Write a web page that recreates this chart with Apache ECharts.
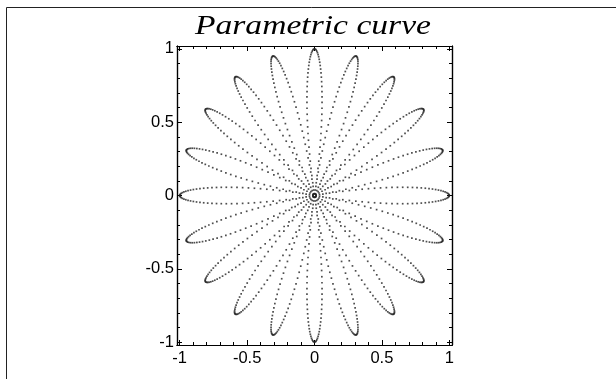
<!DOCTYPE html>
<html>
<head>
<meta charset="utf-8">
<script src="https://cdn.jsdelivr.net/npm/echarts@6/dist/echarts.min.js"></script>
<style>
  html, body { margin: 0; padding: 0; background: #fff; }
  #chart { width: 616px; height: 379px; }
</style>
</head>
<body>
<div id="chart"></div>
<script>
// Rose curve r = cos(k t), traced as x = r cos t, y = r sin t for t in [0, 2π)
const petalFrequency = 10;          // k: 2k = 20 petals
const sampleCount = 1250;           // dots along the curve
const majorTicks = [-1, -0.5, 0, 0.5, 1];
const minorTicks = [-0.9, -0.8, -0.7, -0.6, -0.4, -0.3, -0.2, -0.1,
                    0.1, 0.2, 0.3, 0.4, 0.6, 0.7, 0.8, 0.9];
const tickLabels = ['-1', '-0.5', '0', '0.5', '1'];
const axisRange = [-1.02, 1.02];
const chartTitle = 'Parametric curve';

const curvePoints = [];
for (let i = 0; i < sampleCount; i++) {
  const t = 2 * Math.PI * i / sampleCount;
  const r = Math.cos(petalFrequency * t);
  curvePoints.push([r * Math.cos(t), r * Math.sin(t)]);
}

const labelFont = { fontFamily: '"Liberation Sans", Arial, sans-serif', fontSize: 16.5, color: '#000' };

function fmt(v) {
  const i = majorTicks.findIndex(m => Math.abs(m - v) < 1e-9);
  return i >= 0 ? tickLabels[i] : '';
}

function axis(kind, position, withLabels, ticks, tickLen) {
  return {
    type: 'value',
    position: position,
    min: axisRange[0],
    max: axisRange[1],
    splitLine: { show: false },
    axisLine: { show: true, onZero: false, lineStyle: { color: '#000', width: 1.2 } },
    axisTick: { show: true, inside: true, length: tickLen, customValues: ticks, lineStyle: { color: '#000', width: 1 } },
    axisLabel: withLabels
      ? Object.assign({ show: true, customValues: majorTicks, formatter: fmt, margin: kind === 'x' ? 5 : 3 }, labelFont)
      : { show: false }
  };
}

const chart = echarts.init(document.getElementById('chart'), null, { renderer: 'canvas' });
chart.setOption({
  animation: false,
  backgroundColor: '#fff',
  graphic: [{
    type: 'rect',
    shape: { x: 6.5, y: 7.5, width: 700, height: 500 },
    style: { fill: 'none', stroke: '#222', lineWidth: 1 },
    silent: true
  }, {
    // wide italic serif heading above the plot
    type: 'text',
    x: 313,
    y: 27,
    scaleX: 1.2,
    style: {
      text: chartTitle,
      align: 'center',
      verticalAlign: 'middle',
      font: 'italic 28px "Liberation Serif", "Times New Roman", serif',
      fill: '#000'
    },
    silent: true
  }],
  grid: { left: 177, top: 46, width: 275, height: 299, containLabel: false },
  xAxis: [
    axis('x', 'bottom', true, majorTicks, 5),
    axis('x', 'bottom', false, minorTicks, 3),
    axis('x', 'top', false, majorTicks, 5),
    axis('x', 'top', false, minorTicks, 3)
  ],
  yAxis: [
    axis('y', 'left', true, majorTicks, 5),
    axis('y', 'left', false, minorTicks, 3),
    axis('y', 'right', false, majorTicks, 5),
    axis('y', 'right', false, minorTicks, 3)
  ],
  series: [{
    type: 'scatter',
    xAxisIndex: 0,
    yAxisIndex: 0,
    data: curvePoints,
    symbol: 'rect',
    symbolSize: 1.7,
    itemStyle: { color: '#222' },
    silent: true
  }]
});
</script>
</body>
</html>
